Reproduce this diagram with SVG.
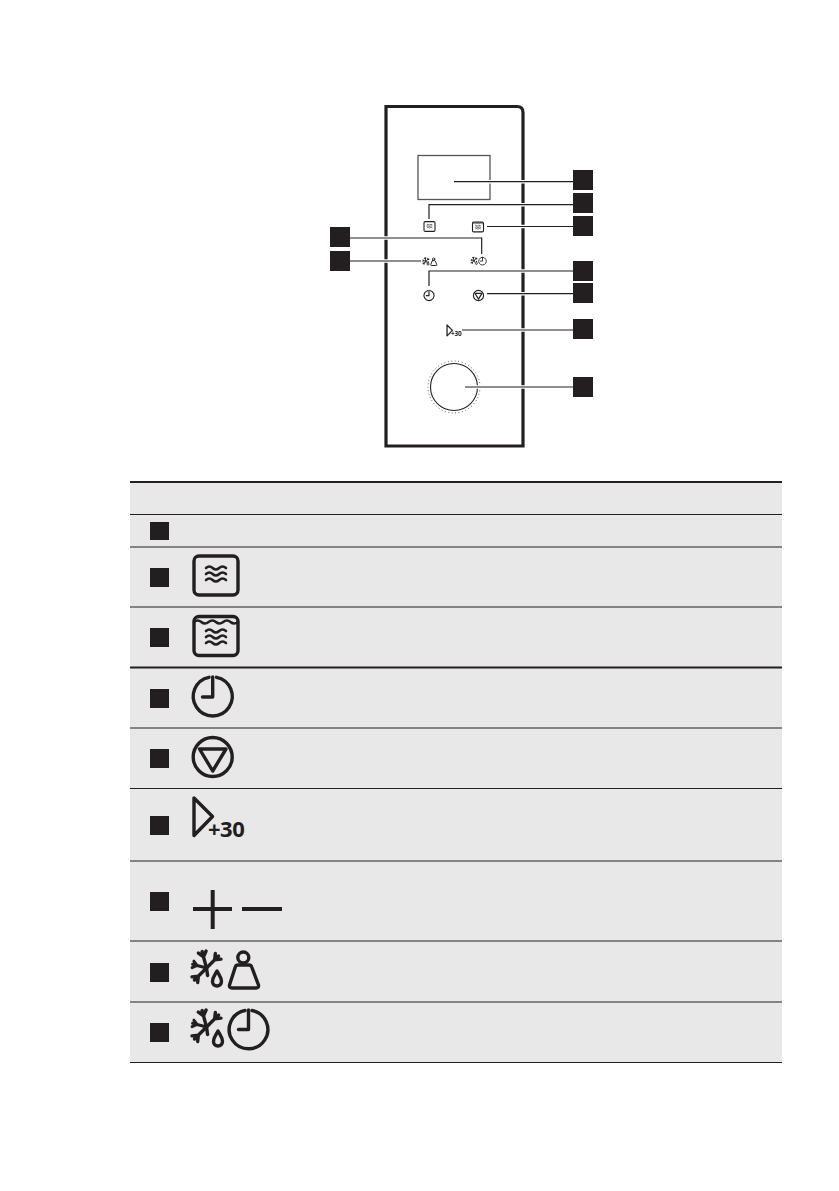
<svg xmlns="http://www.w3.org/2000/svg" xmlns:xlink="http://www.w3.org/1999/xlink" width="839" height="1191" viewBox="0 0 839 1191">
<style>
.sq{fill:#231f20}
.big{fill:none;stroke:#231f20;stroke-width:3.400;stroke-linejoin:round;stroke-linecap:round}
.mini{fill:none;stroke:#231f20;stroke-width:4.400;stroke-linejoin:round;stroke-linecap:round}
.rl{stroke:#231f20;stroke-width:1.100}
.rb{stroke:#231f20;stroke-width:2}
.p30{font-family:"Noto Sans","Open Sans",sans-serif;font-weight:700;fill:#231f20;stroke:none;letter-spacing:-.5px}
</style>
<defs>
<path id="waves" stroke-width="2.600" d="M-10-6q3.300-3 6.600 0t6.600 0t6.800 0M-10 0q3.300-3 6.600 0t6.600 0t6.800 0M-10 6q3.300-3 6.600 0t6.600 0t6.800 0"/>
<path id="arm" d="M0 0H-17M-16.500-4-11.500 0-16.500 4"/>
<g id="flake" transform="rotate(15)">
<use xlink:href="#arm" transform="scale(.85)"/>
<use xlink:href="#arm" transform="rotate(60)"/>
<use xlink:href="#arm" transform="rotate(120)"/>
<use xlink:href="#arm" transform="rotate(-60)"/>
<path d="M0 0 3 7"/>
</g>
<path id="drop" d="M0-8C-2-4-4.500-1.500-4.500 2.500A4.500 4.500 0 0 0 4.500 2.500C4.500-1.500 2-4 0-8Z"/>
<g id="i-mw"><rect x="194" y="556" width="44" height="39" rx="5"/><use xlink:href="#waves" x="216" y="574"/></g>
<g id="i-grill"><rect x="194" y="616.500" width="44" height="39" rx="5"/><path stroke-width="2.600" d="M194 622q3.700-3 7.300 0t7.300 0t7.300 0t7.300 0t7.300 0t7.500 0"/><use xlink:href="#waves" x="216" y="637"/></g>
<g id="i-clock"><path d="M216.500 677.300A19.500 19.500 0 1 1 209 677.300"/><path d="M212.700 677V697H202.500"/></g>
<g id="i-stop"><circle cx="212.700" cy="757" r="19.500"/><path d="M199.500 749H226L212.700 771Z"/></g>
<g id="i-start"><path d="M194 798V835.500L212.500 816.500Z"/><text class="p30" x="208" y="837" font-size="22">+30</text></g>
<g id="i-dw"><g transform="translate(206.500 968)"><use xlink:href="#flake"/></g><use xlink:href="#drop" x="217" y="979"/><circle cx="243.300" cy="957.500" r="5.500"/><path d="M238 965H249Q251 965 251.700 967L258.500 985Q259 988 256 988H232Q229 988 229.500 985L235.300 967Q236 965 238 965Z"/></g>
<g id="i-dt"><g transform="translate(206.500 1027)"><use xlink:href="#flake"/></g><use xlink:href="#drop" x="218" y="1039"/><path d="M252 1010.500A19.300 19.300 0 1 1 245 1010.500"/><path d="M248.500 1010V1029.500H238.500"/></g>
</defs>
<rect width="839" height="1191" fill="#fff"/>

<g id="table">
<rect x="130" y="482" width="652" height="580" fill="#e8e8e8"/>
<path class="rb" d="M130 482H782M130 667.500H782"/>
<path class="rl" d="M130 514.500H782M130 547H782M130 607H782M130 728H782M130 788.500H782M130 861H782M130 941H782M130 1002H782M130 1062.500H782"/>
</g>

<g id="panel">
<path d="M386 446V106.500H517Q523 106.500 523 112.500V446Z" fill="#fff" stroke="#231f20" stroke-width="3.200"/>
<rect x="418" y="155.500" width="72" height="44" fill="none" stroke="#555" stroke-width="1.300"/>
<g id="knob"><circle cx="454" cy="387" r="23.500" fill="#fff" stroke="#231f20" stroke-width="1.100"/>
<circle cx="454" cy="387" r="26" fill="none" stroke="#231f20" stroke-width="0.800" stroke-dasharray="0.900 2.600"/></g>
</g>

<g id="connectors" fill="none">
<path stroke="#fff" stroke-width="3.500" d="M460 181.700H573M429 216V204.700H573M490 226.500H573M350 238H481.700V250M350 261H418M429 283V271H573M490 293.700H573M465 330H573M468 387H573"/>
<path stroke="#231f20" stroke-width="1.200" d="M454 181.700H573M429 219V204.700H573M487 226.500H573M350 238H481.700V254M350 261H421M429 286V271H573M487 293.700H573M462 330H573M465 387H573"/>
</g>

<g id="panel-icons" class="mini">
<use id="mini-microwave" xlink:href="#i-mw" transform="translate(429.500 226.500) scale(.25) translate(-216 -575.500)"/>
<use id="mini-microwave-grill" xlink:href="#i-grill" transform="translate(478 227) scale(.25) translate(-216 -636)"/>
<use id="mini-clock" xlink:href="#i-clock" transform="translate(429 295.500) scale(.26) translate(-212.700 -696.500)"/>
<use id="mini-stop" xlink:href="#i-stop" transform="translate(478.500 295.500) scale(.26) translate(-212.700 -757)"/>
<use id="mini-start" opacity=".99" xlink:href="#i-start" transform="translate(454 330.500) scale(.29) translate(-218 -817)"/>
<use id="mini-defrost-weight" xlink:href="#i-dw" transform="translate(430 261.500) scale(.21) translate(-226 -969)"/>
<use id="mini-defrost-time" xlink:href="#i-dt" transform="translate(479 261) scale(.2) translate(-231 -1029)"/>
</g>

<g id="labels-diagram" class="sq">
<rect x="573" y="170" width="20" height="20"/>
<rect x="573" y="193" width="20" height="20"/>
<rect x="573" y="216" width="20" height="20"/>
<rect x="573" y="261" width="20" height="20"/>
<rect x="573" y="283" width="20" height="20"/>
<rect x="573" y="319" width="20" height="20"/>
<rect x="573" y="377" width="20" height="20"/>
<rect x="330" y="227" width="20" height="20"/>
<rect x="330" y="251" width="20" height="20"/>
</g>

<g id="labels-table" class="sq">
<rect x="150" y="522" width="19" height="18"/>
<rect x="150" y="568" width="19" height="19"/>
<rect x="150" y="628" width="19" height="19"/>
<rect x="150" y="689" width="19" height="19"/>
<rect x="150" y="749" width="19" height="19"/>
<rect x="150" y="816" width="19" height="19"/>
<rect x="150" y="892" width="19" height="19"/>
<rect x="150" y="963" width="19" height="19"/>
<rect x="150" y="1023" width="19" height="19"/>
</g>

<g id="icons-table" class="big">
<use id="icon-microwave" xlink:href="#i-mw"/>
<use id="icon-microwave-grill" xlink:href="#i-grill"/>
<use id="icon-clock" xlink:href="#i-clock"/>
<use id="icon-stop" xlink:href="#i-stop"/>
<use id="icon-start" xlink:href="#i-start"/>
<path id="icon-plus-minus" stroke-width="4" stroke-linecap="butt" d="M193 909H232M212.700 890V929M242 909H282"/>
<use id="icon-defrost-weight" xlink:href="#i-dw"/>
<use id="icon-defrost-time" xlink:href="#i-dt"/>
</g>
</svg>
